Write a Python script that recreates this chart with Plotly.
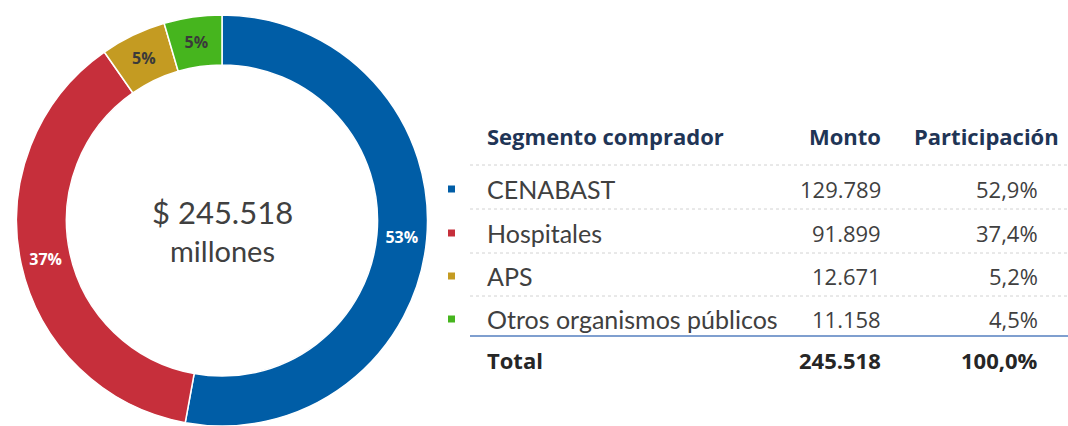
import plotly.graph_objects as go

# ---- data ----
segmentos = ["CENABAST", "Hospitales", "APS", "Otros organismos públicos"]
montos = [129789, 91899, 12671, 11158]
total_monto = 245518
colores = ["#005DA6", "#C62F3B", "#C49B22", "#46B51E"]
texto_colores = ["#FFFFFF", "#FFFFFF", "#3A3A3A", "#3A3A3A"]
encabezados = ["Segmento comprador", "Monto", "Participación"]
centro_titulo = "$ 245.518"
centro_sub = "millones"

W, H = 1068, 426


def fmt_miles(v):
    return f"{v:,}".replace(",", ".")


def fmt_pct(v, tot):
    return f"{100 * v / tot:.1f}%".replace(".", ",")


fig = go.Figure()

# donut geometry (pixels)
cx, top, r = 222, 15, 205.5
fig.add_trace(go.Pie(
    labels=segmentos,
    values=montos,
    sort=False,
    direction="clockwise",
    rotation=0,
    hole=0.757,
    marker=dict(colors=colores, line=dict(color="#FFFFFF", width=1.5)),
    texttemplate="%{percent:.0%}",
    textposition="inside",
    insidetextorientation="horizontal",
    textfont=dict(family="Open Sans", size=16, color=texto_colores, weight="bold"),
    domain=dict(x=[(cx - r) / W, (cx + r) / W], y=[max(0, 1 - (top + 2 * r) / H), 1 - top / H]),
    showlegend=False,
    hoverinfo="label+value+percent",
))

anns = []
shapes = []


def px(x):
    return x / W


def py(y):
    return 1 - y / H


# centre text
anns.append(dict(x=px(cx), y=py(212), text=centro_titulo, showarrow=False,
                 font=dict(family="Lato", size=31, color="#404040"), xanchor="center", yanchor="middle"))
anns.append(dict(x=px(cx), y=py(251), text=centro_sub, showarrow=False,
                 font=dict(family="Lato", size=29, color="#404040"), xanchor="center", yanchor="middle"))

# table
x_seg, x_monto, x_part, x_part_h = 485, 883, 1040, 1061
header_y = 136
row_ys = [189, 233, 276, 319]
sep_ys = [165, 209, 253, 296]
total_y = 360
head_col = "#1F3556"
txt_col = "#404040"
bold_font = dict(family="Open Sans", size=22, color=head_col)

anns.append(dict(x=px(x_seg), y=py(header_y), text="<b>" + encabezados[0] + "</b>", showarrow=False,
                 xanchor="left", yanchor="middle", font=bold_font))
anns.append(dict(x=px(x_monto), y=py(header_y), text="<b>" + encabezados[1] + "</b>", showarrow=False,
                 xanchor="right", yanchor="middle", font=bold_font))
anns.append(dict(x=px(x_part_h), y=py(header_y), text="<b>" + encabezados[2] + "</b>", showarrow=False,
                 xanchor="right", yanchor="middle", font=bold_font))

for seg, m, c, yy in zip(segmentos, montos, colores, row_ys):
    anns.append(dict(x=px(x_seg), y=py(yy), text=seg, showarrow=False, xanchor="left", yanchor="middle",
                     font=dict(family="Lato", size=25, color=txt_col)))
    anns.append(dict(x=px(x_monto), y=py(yy), text=fmt_miles(m), showarrow=False, xanchor="right",
                     yanchor="middle", font=dict(family="Open Sans", size=22, color=txt_col)))
    anns.append(dict(x=px(x_part), y=py(yy), text=fmt_pct(m, total_monto), showarrow=False, xanchor="right",
                     yanchor="middle", font=dict(family="Open Sans", size=22, color=txt_col)))
    shapes.append(dict(type="rect", xref="paper", yref="paper", x0=px(448), x1=px(455),
                       y0=py(yy + 3.5), y1=py(yy - 3.5), fillcolor=c, line=dict(width=0)))

for sy in sep_ys:
    shapes.append(dict(type="line", xref="paper", yref="paper", x0=px(470), x1=1, y0=py(sy), y1=py(sy),
                       line=dict(color="#D2D2D2", width=1, dash="dot")))
shapes.append(dict(type="line", xref="paper", yref="paper", x0=px(470), x1=1, y0=py(336), y1=py(336),
                   line=dict(color="#7F9FCF", width=2)))

tot_font = dict(family="Open Sans", size=22, color="#262626")
anns.append(dict(x=px(x_seg), y=py(total_y), text="<b>Total</b>", showarrow=False, xanchor="left",
                 yanchor="middle", font=tot_font))
anns.append(dict(x=px(x_monto), y=py(total_y), text="<b>" + fmt_miles(total_monto) + "</b>", showarrow=False,
                 xanchor="right", yanchor="middle", font=tot_font))
anns.append(dict(x=px(x_part), y=py(total_y), text="<b>" + fmt_pct(total_monto, total_monto) + "</b>",
                 showarrow=False, xanchor="right", yanchor="middle", font=tot_font))

fig.update_layout(
    width=W, height=H,
    margin=dict(l=0, r=0, t=0, b=0),
    paper_bgcolor="#FFFFFF",
    plot_bgcolor="#FFFFFF",
    annotations=anns,
    shapes=shapes,
)

fig.write_html("out.html", config={"displayModeBar": False},
               post_script="document.body.style.margin='0px';")
